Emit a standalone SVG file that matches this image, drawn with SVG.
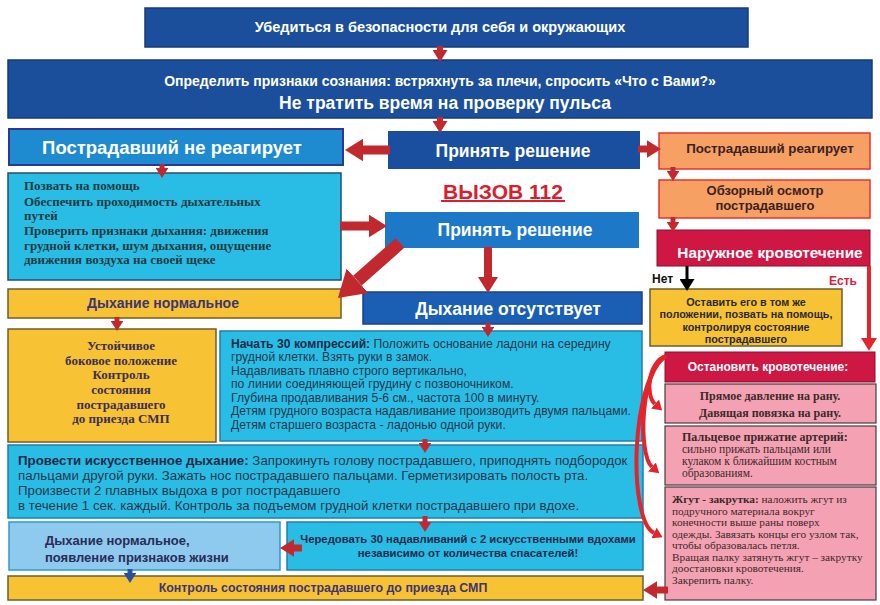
<svg xmlns="http://www.w3.org/2000/svg" width="880" height="605" viewBox="0 0 880 605">
<style>
text{font-family:"Liberation Sans",Arial,sans-serif}
.w{fill:#fff;font-weight:bold;text-anchor:middle}
.serif text{font-family:"Liberation Serif","Times New Roman",serif}
.dk{fill:#1b4f9c;stroke:#123d7c;stroke-width:1.5}
.cy{fill:#29bde6;stroke:#1d7fae;stroke-width:1.5}
.ye{fill:#f7c233;stroke:#6e5e2a;stroke-width:1.5}
.or{fill:#f7a064;stroke:#e8302a;stroke-width:1.5}
.cr{fill:#cf1744;stroke:#8a1030;stroke-width:1}
.pk{fill:#f4a2b3;stroke:#4a3a3e;stroke-width:1.2}
.ar{fill:none;stroke:#c1292e}
.arb{fill:none;stroke:#e3242b}
</style>
<defs>
<marker id="h" viewBox="0 0 8 10" refX="0" refY="5" markerWidth="2" markerHeight="2.5" orient="auto"><path d="M0,0 L8,5 L0,10 z" fill="#c1292e"/></marker>
<marker id="hb" viewBox="0 0 8 10" refX="0" refY="5" markerWidth="3.2" markerHeight="4" orient="auto"><path d="M0,0 L8,5 L0,10 z" fill="#e3242b"/></marker>
<marker id="hc" viewBox="0 0 8 10" refX="0" refY="5" markerWidth="2.4" markerHeight="3" orient="auto"><path d="M0,0 L8,5 L0,10 z" fill="#e3242b"/></marker>
<marker id="hk" viewBox="0 0 8 10" refX="0" refY="5" markerWidth="4" markerHeight="5" orient="auto"><path d="M0,0 L8,5 L0,10 z" fill="#000"/></marker>
<marker id="hu" viewBox="0 0 8 10" refX="0" refY="5" markerWidth="2" markerHeight="2.5" orient="auto"><path d="M0,0 L8,5 L0,10 z" fill="#2b4fa0"/></marker>
</defs>

<g id="n-safety">
<rect class="dk" x="145" y="8" width="603" height="39"/>
<text class="w" x="440" y="32" font-size="14.5">Убедиться в безопасности для себя и окружающих</text>
</g>
<g id="n-consc">
<rect class="dk" x="8" y="60" width="864" height="58"/>
<text class="w" x="440" y="86" font-size="14">Определить признаки сознания: встряхнуть за плечи, спросить «Что с Вами?»</text>
<text class="w" x="445" y="109" font-size="17.5">Не тратить время на проверку пульса</text>
</g>
<g id="n-noreact">
<rect x="9" y="129" width="334" height="36" fill="#1e8ad0" stroke="#2b3990" stroke-width="2"/>
<text class="w" x="172" y="154" font-size="18.5">Пострадавший не реагирует</text>
</g>
<g id="n-decide1">
<rect x="388" y="131" width="252" height="38" fill="#1a4fa0"/>
<text class="w" x="513" y="157" font-size="17.5">Принять решение</text>
</g>
<g id="n-react">
<rect class="or" x="659" y="133" width="211" height="36"/>
<text x="770" y="153" font-size="13.3" font-weight="bold" text-anchor="middle" fill="#3a2222">Пострадавший реагирует</text>
</g>
<g id="n-survey">
<rect class="or" x="659" y="180" width="211" height="38"/>
<text x="765" y="195" font-size="13" font-weight="bold" text-anchor="middle" fill="#3a2222">Обзорный осмотр</text>
<text x="765" y="210" font-size="13" font-weight="bold" text-anchor="middle" fill="#3a2222">пострадавшего</text>
</g>
<g id="n-bleed">
<rect class="cr" x="657" y="230" width="213" height="36"/>
<text class="w" x="770" y="258" font-size="15.4">Наружное кровотечение</text>
</g>
<g id="n-call">
<text x="503" y="199" font-size="21" font-weight="bold" text-anchor="middle" fill="#d91f2e">ВЫЗОВ 112</text>
<rect x="441" y="200" width="124" height="2" fill="#d91f2e"/>
</g>
<g id="n-help">
<rect x="8" y="173" width="333" height="107" fill="#29bde6" stroke="#22506a" stroke-width="1.5"/>
<g class="serif" font-size="13" font-weight="bold" fill="#1d3b3f">
<text x="24" y="190">Позвать на помощь</text>
<text x="24" y="206">Обеспечить проходимость дыхательных</text>
<text x="24" y="220">путей</text>
<text x="24" y="235">Проверить признаки дыхания: движения</text>
<text x="24" y="250">грудной клетки, шум дыхания, ощущение</text>
<text x="24" y="264">движения воздуха на своей щеке</text>
</g>
</g>
<g id="n-decide2">
<rect x="385" y="212" width="254" height="36" fill="#1e78c8"/>
<text class="w" x="515" y="236" font-size="17.5">Принять решение</text>
</g>
<g id="n-normal">
<rect class="ye" x="8" y="289" width="333" height="29"/>
<text x="163" y="308" font-size="14" font-weight="bold" text-anchor="middle" fill="#3b3577">Дыхание нормальное</text>
</g>
<g id="n-absent">
<rect x="363" y="292" width="279" height="32" fill="#1a5fb4" stroke="#1d3f8f" stroke-width="1.5"/>
<text class="w" x="508" y="315" font-size="17.5">Дыхание отсутствует</text>
</g>
<g id="n-recovery">
<rect class="ye" x="8" y="329" width="208" height="113"/>
<g class="serif" font-size="13" font-weight="bold" fill="#3b2f55" text-anchor="middle">
<text x="121" y="350">Устойчивое</text>
<text x="121" y="365">боковое положение</text>
<text x="121" y="379">Контроль</text>
<text x="121" y="394">состояния</text>
<text x="121" y="409">пострадавшего</text>
<text x="121" y="423">до приезда СМП</text>
</g>
</g>
<g id="n-compress">
<rect class="cy" x="220" y="331" width="422" height="110"/>
<g font-size="12.2" fill="#24384a">
<text x="231" y="348"><tspan font-weight="bold" fill="#1a2a44">Начать 30 компрессий:</tspan> Положить основание ладони на середину</text>
<text x="231" y="361"> грудной клетки. Взять руки в замок.</text>
<text x="231" y="375">Надавливать плавно строго вертикально,</text>
<text x="231" y="388">по линии соединяющей грудину с позвоночником.</text>
<text x="231" y="402">Глубина продавливания 5-6 см., частота 100 в минуту.</text>
<text x="231" y="415">Детям грудного возраста надавливание производить двумя пальцами.</text>
<text x="231" y="429">Детям старшего возраста - ладонью одной руки.</text>
</g>
</g>
<g id="n-breath">
<rect class="cy" x="8" y="445" width="635" height="73"/>
<g font-size="13.3" fill="#24384a">
<text x="18" y="465"><tspan font-weight="bold" fill="#1a2a44">Провести искусственное дыхание:</tspan> Запрокинуть голову пострадавшего, приподнять подбородок</text>
<text x="18" y="480">пальцами другой руки. Зажать нос пострадавшего пальцами. Герметизировать полость рта.</text>
<text x="18" y="495"> Произвести 2 плавных выдоха в рот пострадавшего</text>
<text x="18" y="510">в течение 1 сек. каждый. Контроль за подъемом грудной клетки пострадавшего при вдохе.</text>
</g>
</g>
<g id="n-alive">
<rect x="9" y="522" width="271" height="48" fill="#8ec9ee" stroke="#2a9ad0" stroke-width="1.5"/>
<text x="45" y="545" font-size="13" font-weight="bold" fill="#2b2b55">Дыхание нормальное,</text>
<text x="45" y="562" font-size="13" font-weight="bold" fill="#2b2b55">появление признаков жизни</text>
</g>
<g id="n-alternate">
<rect class="cy" x="287" y="522" width="356" height="48"/>
<text x="468" y="543" font-size="11.3" font-weight="bold" text-anchor="middle" fill="#1e2a4a">Чередовать 30 надавливаний с 2 искусственными вдохами</text>
<text x="468" y="557" font-size="11.3" font-weight="bold" text-anchor="middle" fill="#1e2a4a">независимо от количества спасателей!</text>
</g>
<g id="n-monitor">
<rect class="ye" x="8" y="576" width="635" height="24"/>
<text x="323" y="592" font-size="12.4" font-weight="bold" text-anchor="middle" fill="#3b3577">Контроль состояния пострадавшего до приезда СМП</text>
</g>
<g id="n-leave">
<rect class="ye" x="650" y="289" width="192" height="57"/>
<g font-size="10.8" font-weight="bold" fill="#2a2a2a" text-anchor="middle">
<text x="746" y="306">Оставить его в том же</text>
<text x="746" y="318">положении, позвать на помощь,</text>
<text x="746" y="331">контролируя состояние</text>
<text x="746" y="343">пострадавшего</text>
</g>
</g>
<g id="n-stop">
<rect class="cr" x="665" y="352" width="210" height="30"/>
<text class="w" x="768" y="371" font-size="12">Остановить кровотечение:</text>
</g>
<g id="n-press">
<rect class="pk" x="665" y="384" width="211" height="39"/>
<g class="serif" font-size="12" font-weight="bold" fill="#3a2a2a" text-anchor="middle">
<text x="770" y="400">Прямое давление на рану.</text>
<text x="770" y="417">Давящая повязка на рану.</text>
</g>
</g>
<g id="n-artery">
<rect class="pk" x="665" y="426" width="211" height="59"/>
<g class="serif" font-size="11.5" fill="#3a2a2a">
<text x="682" y="441" font-weight="bold" font-size="12">Пальцевое прижатие артерий:</text>
<text x="682" y="453">сильно прижать пальцами или</text>
<text x="682" y="465">кулаком к ближайшим костным</text>
<text x="682" y="477">образованиям.</text>
</g>
</g>
<g id="n-tourniquet">
<rect class="pk" x="665" y="487" width="211" height="113"/>
<g class="serif" font-size="11.3" fill="#3a2a2a">
<text x="672" y="503"><tspan font-weight="bold">Жгут - закрутка:</tspan> наложить жгут из</text>
<text x="672" y="514.5">подручного материала вокруг</text>
<text x="672" y="526">конечности выше раны поверх</text>
<text x="672" y="537.5">одежды. Завязать концы его узлом так,</text>
<text x="672" y="549">чтобы образовалась петля.</text>
<text x="672" y="560.5">Вращая палку затянуть жгут – закрутку</text>
<text x="672" y="572">доостановки кровотечения.</text>
<text x="672" y="583.5">Закрепить палку.</text>
</g>
</g>
<g id="labels">
<text x="652" y="283" font-size="12" font-weight="bold" fill="#111">Нет</text>
<text x="829" y="285" font-size="12" font-weight="bold" fill="#d8203a">Есть</text>
</g>

<g id="connectors">
<line class="ar" x1="440" y1="46" x2="440" y2="50" stroke-width="6" marker-end="url(#h)"/>
<line class="ar" x1="440" y1="117" x2="440" y2="121" stroke-width="6" marker-end="url(#h)"/>
<line class="ar" x1="390" y1="150" x2="363" y2="150" stroke-width="9" marker-end="url(#h)"/>
<line class="ar" x1="638" y1="149" x2="647" y2="149" stroke-width="7" marker-end="url(#h)"/>
<line class="ar" x1="673" y1="167" x2="673" y2="171" stroke-width="5" marker-end="url(#h)"/>
<line class="ar" x1="673" y1="217" x2="673" y2="222" stroke-width="5" marker-end="url(#h)"/>
<line class="ar" x1="162" y1="164" x2="162" y2="168" stroke-width="5" marker-end="url(#h)"/>
<line class="ar" x1="340" y1="226" x2="369" y2="226" stroke-width="9" marker-end="url(#h)"/>
<line class="ar" x1="400" y1="243" x2="357.4" y2="280.7" stroke-width="13" marker-end="url(#h)"/>
<line class="ar" x1="488" y1="247" x2="488" y2="277" stroke-width="8" marker-end="url(#h)"/>
<line class="ar" x1="117" y1="317" x2="117" y2="321" stroke-width="5" marker-end="url(#h)"/>
<line class="ar" x1="488" y1="323" x2="488" y2="327" stroke-width="5" marker-end="url(#h)"/>
<line class="ar" x1="425" y1="439" x2="425" y2="443" stroke-width="5" marker-end="url(#h)"/>
<line class="ar" x1="425" y1="516" x2="425" y2="522" stroke-width="5" marker-end="url(#h)"/>
<line class="ar" x1="302" y1="548" x2="294" y2="548" stroke-width="7" marker-end="url(#h)"/>
<line x1="130" y1="569" x2="130" y2="573" stroke="#2b4fa0" stroke-width="5" marker-end="url(#hu)"/>
<line class="ar" x1="668" y1="590" x2="657" y2="590" stroke-width="7" marker-end="url(#h)"/>
<line x1="687" y1="266" x2="687" y2="279" stroke="#000" stroke-width="3" marker-end="url(#hk)"/>
<line class="arb" x1="869" y1="266" x2="869" y2="338" stroke-width="4" marker-end="url(#hb)"/>
<path class="arb" d="M666,356 C648,362 645,395 655,404" stroke-width="4" marker-end="url(#hc)"/>
<path class="arb" d="M666,356 C640,370 638,455 652,467" stroke-width="4" marker-end="url(#hc)"/>
<path class="arb" d="M666,356 C630,380 628,520 654,533" stroke-width="4" marker-end="url(#hc)"/>
</g>
</svg>
